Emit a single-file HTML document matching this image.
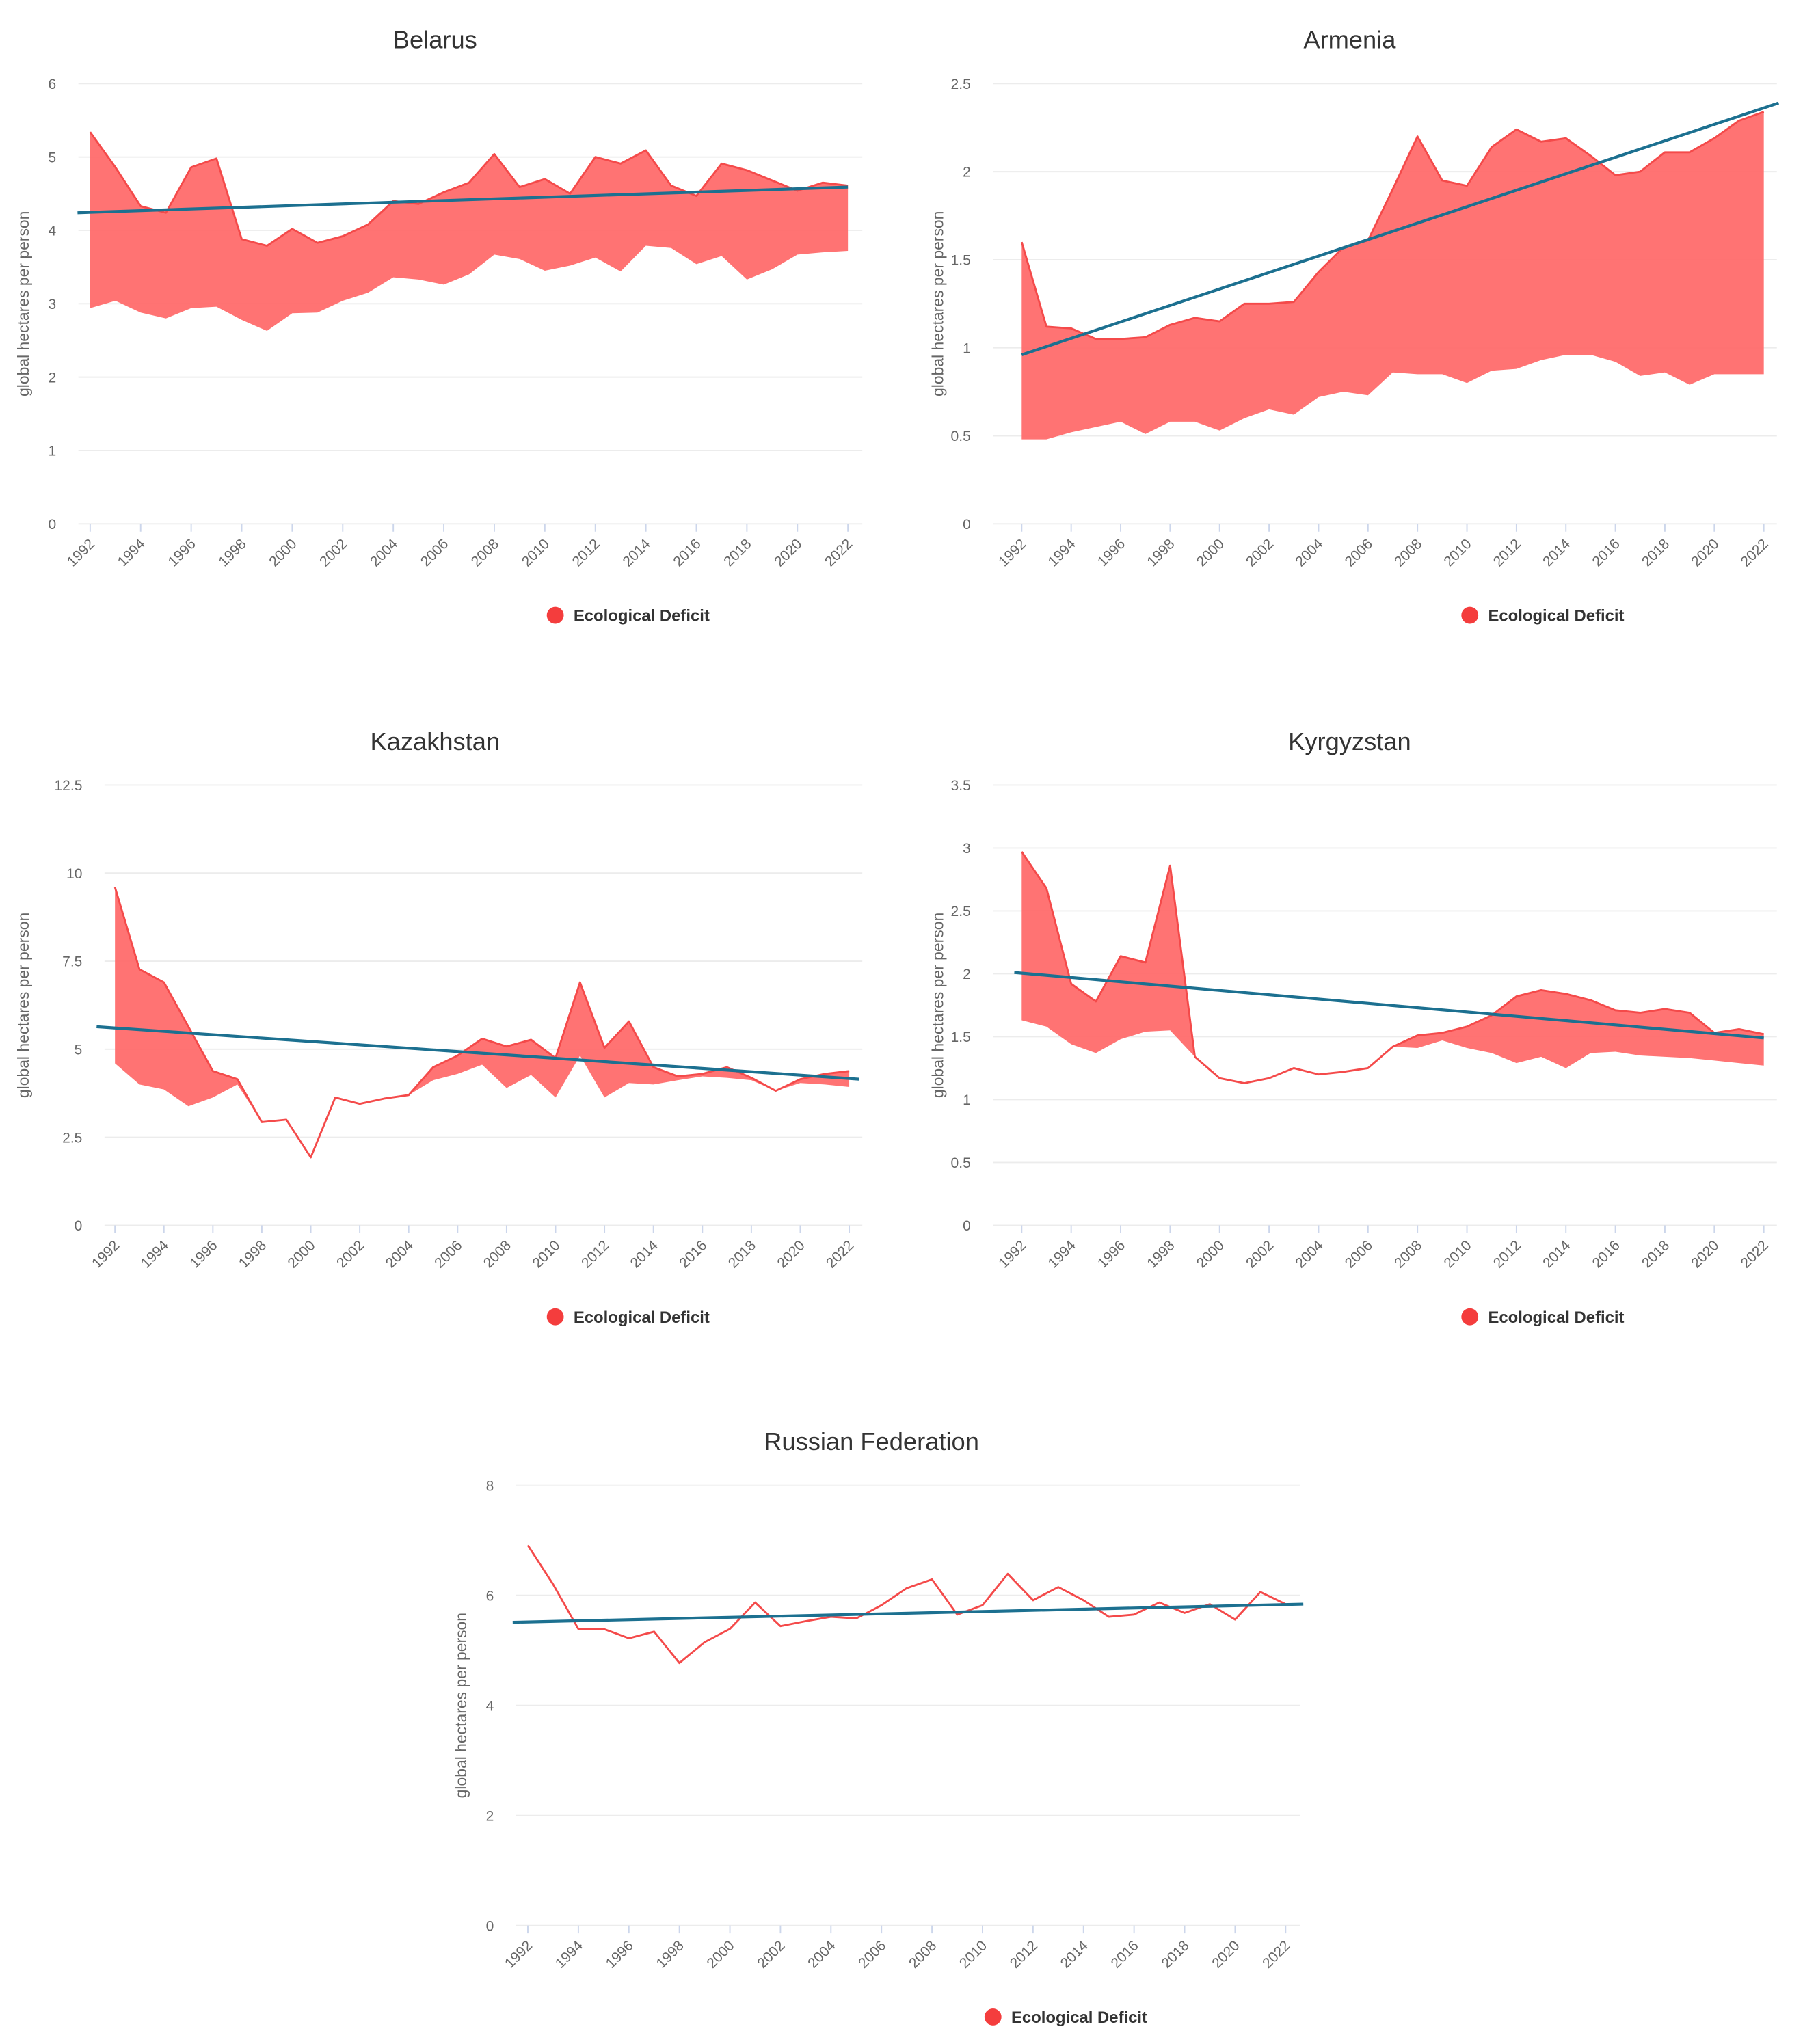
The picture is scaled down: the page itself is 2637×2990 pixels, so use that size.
<!DOCTYPE html>
<html><head><meta charset="utf-8"><style>
html,body{margin:0;padding:0;background:#fff;}
svg{display:block;font-family:"Liberation Sans",sans-serif;}
</style></head><body>
<svg id="root" width="2637" height="2990" viewBox="0 0 1380 1564.7"></svg>
<script>
const years = [1992,1993,1994,1995,1996,1997,1998,1999,2000,2001,2002,2003,2004,2005,2006,2007,2008,2009,2010,2011,2012,2013,2014,2015,2016,2017,2018,2019,2020,2021,2022];
const yearTicks = [1992,1994,1996,1998,2000,2002,2004,2006,2008,2010,2012,2014,2016,2018,2020,2022];

const belarusUpper = [5.34,4.86,4.33,4.24,4.86,4.98,3.88,3.79,4.02,3.83,3.92,4.08,4.40,4.36,4.52,4.65,5.04,4.59,4.70,4.50,5.00,4.91,5.09,4.61,4.47,4.91,4.82,4.68,4.54,4.65,4.61];
const belarusLower = [2.94,3.04,2.88,2.80,2.94,2.96,2.78,2.63,2.87,2.88,3.04,3.15,3.36,3.33,3.26,3.40,3.67,3.61,3.45,3.52,3.63,3.44,3.79,3.76,3.54,3.65,3.33,3.47,3.67,3.70,3.72];
const belarusTrend = [4.24,4.59];
const belarusTrendYears = [1991.5,2022.0];
const belarusTicks = [0,1,2,3,4,5,6];

const armeniaUpper = [1.60,1.12,1.11,1.05,1.05,1.06,1.13,1.17,1.15,1.25,1.25,1.26,1.43,1.57,1.61,1.90,2.20,1.95,1.92,2.14,2.24,2.17,2.19,2.09,1.98,2.00,2.11,2.11,2.19,2.29,2.34];
const armeniaLower = [0.48,0.48,0.52,0.55,0.58,0.51,0.58,0.58,0.53,0.60,0.65,0.62,0.72,0.75,0.73,0.86,0.85,0.85,0.80,0.87,0.88,0.93,0.96,0.96,0.92,0.84,0.86,0.79,0.85,0.85,0.85];
const armeniaTrend = [0.96,2.39];
const armeniaTrendYears = [1992,2022.6];
const armeniaTicks = [0,0.5,1,1.5,2,2.5];

const kazakhUpper = [9.6,7.27,6.9,5.64,4.38,4.15,2.93,3.0,1.93,3.63,3.45,3.6,3.7,4.49,4.82,5.30,5.08,5.27,4.75,6.9,5.04,5.79,4.49,4.23,4.30,4.49,4.19,3.82,4.15,4.30,4.38];
const kazakhLower = [4.6,4.0,3.86,3.38,3.63,4.0,2.93,3.0,1.93,3.63,3.45,3.6,3.7,4.12,4.3,4.56,3.9,4.27,3.63,4.82,3.63,4.04,4.0,4.12,4.23,4.19,4.12,3.82,4.04,4.0,3.93];
const kazakhTrend = [5.64,4.15];
const kazakhTrendYears = [1991.25,2022.4];
const kazakhTicks = [0,2.5,5,7.5,10,12.5];

const kyrgyzUpper = [2.97,2.68,1.92,1.78,2.14,2.09,2.86,1.34,1.17,1.13,1.17,1.25,1.20,1.22,1.25,1.42,1.51,1.53,1.58,1.67,1.82,1.87,1.84,1.79,1.71,1.69,1.72,1.69,1.53,1.56,1.52];
const kyrgyzLower = [1.63,1.58,1.44,1.37,1.48,1.54,1.55,1.34,1.17,1.13,1.17,1.25,1.20,1.22,1.25,1.42,1.41,1.47,1.41,1.37,1.29,1.34,1.25,1.37,1.38,1.35,1.34,1.33,1.31,1.29,1.27];
const kyrgyzTrend = [2.01,1.49];
const kyrgyzTrendYears = [1991.7,2022];
const kyrgyzTicks = [0,0.5,1,1.5,2,2.5,3,3.5];

const russiaUpper = [6.91,6.2,5.39,5.39,5.22,5.34,4.77,5.15,5.39,5.87,5.44,5.53,5.61,5.58,5.82,6.13,6.29,5.65,5.82,6.39,5.91,6.15,5.91,5.61,5.65,5.87,5.68,5.84,5.56,6.06,5.84];
const russiaLower = russiaUpper.slice();
const russiaTrend = [5.51,5.84];
const russiaTrendYears = [1991.4,2022.7];
const russiaTicks = [0,2,4,6,8];

const NS = "http://www.w3.org/2000/svg";
const root = document.getElementById('root');
function mk(tag, attrs, parent, text){
  const e = document.createElementNS(NS, tag);
  for (const k in attrs) e.setAttribute(k, attrs[k]);
  if (text !== undefined) e.textContent = text;
  (parent||root).appendChild(e);
  return e;
}

function drawChart(slug, title, layout, ticks, upper, lower, trend, trendYears){
  const g = mk('g', {});
  
  
  const ymax = ticks[ticks.length-1];
  const yScale = v => layout.yBottom - (v / ymax) * (layout.yBottom - layout.yTop);
  const xScale = yr => layout.x0 + (yr - 1992) / 30 * (layout.x1 - layout.x0);

  const t = mk('text', {x: layout.titleX, y: layout.yTop - 27, 'text-anchor':'middle', 'font-size':19, fill:'#333'}, g, title);
  
  

  ticks.forEach(v => {
    const y = yScale(v);
    const gl = mk('line', {x1: layout.gx0, x2: layout.gx1, y1: y, y2: y, stroke:'#ececec', 'stroke-width':1}, g);
    
    
    const tl = mk('text', {x: layout.gx0 - 17, y: y + 4, 'text-anchor':'end', 'font-size':11, fill:'#666'}, g, String(v));
    
    
  });

  const ax = mk('text', {transform:`translate(${layout.axX},${(layout.yTop+layout.yBottom)/2}) rotate(-90)`, 'text-anchor':'middle', 'font-size':12, fill:'#666'}, g, 'global hectares per person');
  
  

  yearTicks.forEach(yr => {
    const x = xScale(yr);
    const tk = mk('line', {x1:x, x2:x, y1:layout.yBottom, y2:layout.yBottom+6, stroke:'#ccd6eb', 'stroke-width':1}, g);
    
    
    const tl = mk('text', {transform:`translate(${x+4},${layout.yBottom+16}) rotate(-45)`, 'text-anchor':'end', 'font-size':11, fill:'#666'}, g, String(yr));
    
    
  });

  const pts = years.map((yr,i) => xScale(yr) + ',' + yScale(upper[i]));
  const low = years.map((yr,i) => xScale(yr) + ',' + yScale(lower[i])).reverse();
  const area = mk('polygon', {points: pts.concat(low).join(' '), fill:'#ff6b6b', 'fill-opacity':0.95, stroke:'none'}, g);
  
  
  const ln = mk('polyline', {points: pts.join(' '), fill:'none', stroke:'#f44a4a', 'stroke-width':1.5, 'stroke-linejoin':'round'}, g);
  
  

  const tr = mk('line', {x1: xScale(trendYears[0]), y1: yScale(trend[0]), x2: xScale(trendYears[1]), y2: yScale(trend[1]), stroke:'#1c7090', 'stroke-width':2.2}, g);
  
  

  const lg = mk('g', {}, g);
  
  
  mk('circle', {cx: layout.legendX, cy: layout.yBottom + 70, r: 6.5, fill:'#f43d3d'}, lg);
  mk('text', {x: layout.legendX + 14, y: layout.yBottom + 74.5, 'font-size':12.5, 'font-weight':'bold', fill:'#333'}, lg, 'Ecological Deficit');
}

drawChart('belarus', 'Belarus', {x0:69,x1:649,gx0:60,gx1:660,yTop:64,yBottom:401,titleX:333,legendX:425,axX:22}, belarusTicks, belarusUpper, belarusLower, belarusTrend, belarusTrendYears);
drawChart('armenia', 'Armenia', {x0:782,x1:1350,gx0:760,gx1:1360,yTop:64,yBottom:401,titleX:1033,legendX:1125,axX:722}, armeniaTicks, armeniaUpper, armeniaLower, armeniaTrend, armeniaTrendYears);
drawChart('kazakhstan', 'Kazakhstan', {x0:88,x1:650,gx0:80,gx1:660,yTop:601,yBottom:938,titleX:333,legendX:425,axX:22}, kazakhTicks, kazakhUpper, kazakhLower, kazakhTrend, kazakhTrendYears);
drawChart('kyrgyzstan', 'Kyrgyzstan', {x0:782,x1:1350,gx0:760,gx1:1360,yTop:601,yBottom:938,titleX:1033,legendX:1125,axX:722}, kyrgyzTicks, kyrgyzUpper, kyrgyzLower, kyrgyzTrend, kyrgyzTrendYears);
drawChart('russia', 'Russian Federation', {x0:404,x1:984,gx0:395,gx1:995,yTop:1137,yBottom:1474,titleX:667,legendX:760,axX:357}, russiaTicks, russiaUpper, russiaLower, russiaTrend, russiaTrendYears);
</script>
</body></html>
